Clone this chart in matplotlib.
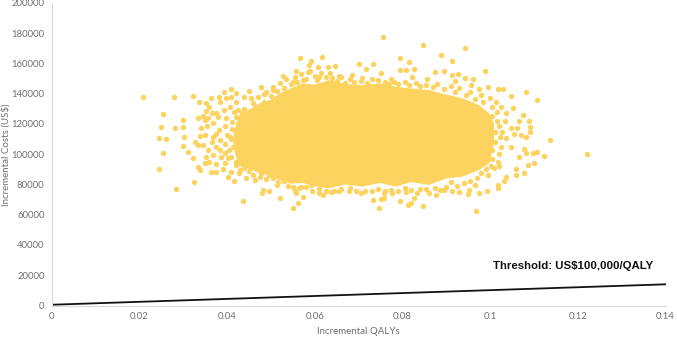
#!/usr/bin/env python3

from matplotlib import pyplot as plt

# simulated points (outer part of the cloud)
qalys = [.0208, .0279, .0323, .0337, .0254, .0299, .0334, .0249, .0282, .0245, .0262, .0299, .0303, .0299,
         .0255, .0246, .0311, .0322, .0334, .0339, .0325, .0285, .0402, .0415, .0436, .048, .0497, .052,
         .0551, .0561, .0364, .0383, .0394, .0409, .0421, .0451, .0478, .0485, .0504, .0527, .055, .0558,
         .0567, .0592, .0616, .0608, .063, .0584, .0588, .0573, .0611,
         .036, .0349, .0356, .0368, .0379, .0394, .0406, .0421, .044, .0455, .0466, .0398, .0421, .044,
         .0383, .0368, .0349, .0341, .0356, .0375, .0387, .0368, .0402, .0413, .0406, .0428, .0345, .0334,
         .0375, .0364, .0349, .0421, .0428, .0444, .0463, .0478, .0497, .0516, .055, .0558, .0573, .0535,
         .0482, .0569, .0592, .0611, .0618,
         .0757, .0846, .0943, .0795, .0816, .0888, .0913, .0989, .0646, .07, .0732, .0718, .0656, .0686,
         .0709, .0752, .0774, .0795, .0808, .0827, .0823, .0857, .0875, .0894, .0914, .0926, .092, .0943,
         .0962, .0956, .0975, .0996, .1017, .103, .1047, .1081, .1106, .1013, .1024, .1052, .1036, .1076,
         .1066, .1034, .1089, .1091, .1091, .1047, .1062, .1055, .107, .1081, .1028, .1036, .1047, .1136,
         .122, .1078, .1081, .1097, .1106, .1123, .1065, .11, .1087, .1059, .1078, .106, .1036, .1032,
         .1017, .1017, .0992, .0975, .0952, .095, .0929, .0913, .0967, .0847, .0747, .0732, .0751, .0758,
         .0795, .0812, .0819, .0827, .0834, .0808, .0777, .0758, .0705, .0679, .0656, .0637, .0861, .0876,
         .0895, .1021, .1009]
costs = [138000, 137600, 138500, 134700, 126600, 122600, 123700, 118200, 117100, 111000, 110100, 118200, 111600,
         105400, 101000, 90200, 101700, 97300, 91800, 89600, 81900, 77000, 85200, 82300, 68900, 74200, 75700,
         70900, 64200, 67500, 137400, 138000, 141300, 142900, 140200, 142000, 144200, 139800, 142400, 151700,
         148000, 155200, 163800, 161800, 164500, 157400, 157400, 154600, 159000, 149100, 151300,
         131400, 122600, 123700, 120400, 124800, 129200, 131400, 134700, 138000, 136900, 131400, 123700, 124800,
         123700, 116000, 111600, 112700, 117100, 102800, 105000, 98400, 99500, 97300, 105000, 111600, 116000,
         106100, 106100, 88500, 88500, 94000, 92900, 87400, 84100, 83000, 87400, 86300, 81900, 78600, 74200,
         72000, 85200, 76300, 78600, 79700, 74200, 73000,
         177300, 172200, 170400, 163800, 161000, 165600, 161400, 154800, 158500, 159600, 159400, 156100, 151900,
         152400, 150200, 153500, 149700, 155700, 155700, 156100, 151300, 149700, 154600, 155200, 152400, 153000,
         148600, 150600, 149700, 145700, 142900, 144200, 142900, 143300, 138500, 141300, 135600, 134700, 131000,
         130300, 127000, 125900, 122200, 122000, 122200, 118200, 114900, 117600, 117100, 113100, 112700, 111600,
         114900, 110500, 105000, 109400, 99900, 103200, 101000, 101000, 101300, 98800, 98000, 94000, 92900, 90200,
         87400, 86300, 85200, 82500, 79700, 77500, 75900, 74600, 76400, 73700, 74800, 75900, 62300, 65800, 64200,
         69700, 70400, 70900, 69300, 66400, 67500, 70900, 74200, 75300, 74200, 74200, 74600, 75900, 75900, 74800,
         74200, 73000, 76400, 92200, 90700]

# points along the edge of the dense part
edge_qalys = [.044, .0455, .046, .047, .0485, .049, .05, .0505, .0515, .052, .053, .0535, .0545, .0555, .056, .057,
              .058, .059, .06, .0605, .0615, .0625, .0635, .064, .065, .066, .067, .068, .069, .0705, .072, .073,
              .0745, .076, .077, .078, .079, .0805, .0815, .083, .084, .0855, .087, .088, .0895, .091, .092, .093,
              .0945, .0955, .0965, .098, .0985, .1, .1005, .1015, .1005, .1015, .102, .1012, .1022, .1012, .1025,
              .1005, .102, .1005, .1018, .1003, .099, .0995, .098, .097, .0955, .0965, .094, .0925, .091, .09,
              .0885, .0875, .0855, .084, .082, .0805, .079, .0775, .076, .0745, .073, .0715, .0695, .068, .066,
              .0645, .0625, .061, .0595, .058, .0565, .0555, .054, .053, .0515, .0505, .049, .0475, .046, .045,
              .044, .043, .042, .041, .0395, .0405, .0395, .041, .0385, .04, .0412, .0395, .0412, .0425, .0435,
              .0425, .0415, .0385, .0375, .0365, .0355, .0352, .036, .0375, .039, .041, .0395, .0375, .0365,
              .0352, .0385, .0398, .041, .0352, .0345, .0338, .0328]
edge_costs = [130000, 128000, 134000, 138000, 134500, 141000, 138500, 144500, 142000, 147000, 144000, 149500, 146500,
              151000, 148000, 153000, 150000, 155000, 151500, 149000, 153500, 151000, 154000, 150500, 148500, 151000,
              147000, 150000, 148000, 148500, 147000, 150000, 149000, 147500, 146500, 148000, 146500, 147500, 145500,
              147000, 145000, 146000, 144500, 146500, 143000, 145000, 141000, 143500, 139000, 141000, 136500, 139500,
              134500, 137000, 131000, 128000, 125000, 122000, 118500, 115000, 111500, 108000, 105000, 103000, 100000,
              97000, 95000, 92500, 90000, 86500, 87500, 84000, 82000, 79500, 81000, 79000, 81500, 78500, 76500, 78000,
              76800, 77000, 76500, 77500, 75500, 76500, 75500, 77000, 76000, 75500, 76000, 77500, 77000, 75500, 75800,
              77000, 76000, 78500, 77500, 76000, 79000, 82000, 79500, 84000, 83500, 85000, 86500, 89000, 91000, 89500,
              95000, 98000, 101000, 103000, 107000, 110000, 109500, 113000, 117000, 119000, 121500, 120000, 127000,
              129000, 128000, 103000, 113500, 108000, 119000, 98000, 95000, 93500, 90500, 88500, 94500, 127500, 127000,
              128500, 134500, 137000, 138000, 134000, 125000, 112000, 108000]

# where the points overlap completely, only the outline of the cloud can be read
core_x = [.0415, .0428, .0450, .0474, .0500, .0520, .0545, .0573, .0600, .0633, .0670, .0709, .0750, .0785,
          .0820, .0861, .0900, .0937, .0975, .0998, .1009]
core_low = [104000, 92000, 90500, 87400, 85500, 83000, 80500, 81000, 78800, 77500, 80000, 78600, 81000, 78600,
            81500, 79700, 84000, 85200, 89600, 94000, 107000]
core_high = [114000, 125900, 129500, 133600, 136000, 140200, 143500, 146900, 146000, 149000, 146500, 145700,
             147000, 144600, 143500, 142400, 139500, 137000, 132500, 127000, 120400]

threshold_x = [0, .14]
threshold_y = [500, 14000]

x_ticks = [0, .02, .04, .06, .08, .1, .12, .14]
x_labels = ['0', '0.02', '0.04', '0.06', '0.08', '0.1', '0.12', '0.14']
y_ticks = [0, 20000, 40000, 60000, 80000, 100000, 120000, 140000, 160000, 180000, 200000]

dot_color = '#fdd35f'
text_color = '#6e6e6e'

plt.rcParams['font.family'] = ['Lato', 'DejaVu Sans']

fig = plt.figure(figsize=(6.77, 3.38), dpi=100)
ax = fig.add_axes([51.5 / 677, 32.5 / 338, 614 / 677, 302.5 / 338])

ax.fill_between(core_x, core_low, core_high, facecolor=dot_color, linewidth=0)
ax.scatter(qalys, costs, s=15, color=dot_color, linewidths=0)
ax.scatter(edge_qalys, edge_costs, s=15, color=dot_color, linewidths=0)
ax.plot(threshold_x, threshold_y, color='#111111', linewidth=1.3)

ax.set_xlim(0, .14)
ax.set_ylim(0, 200000)
ax.set_xticks(x_ticks)
ax.set_xticklabels(x_labels)
ax.set_yticks(y_ticks)
ax.tick_params(axis='both', length=0, labelsize=6.8, labelcolor=text_color, pad=5)

ax.set_xlabel('Incremental QALYs', fontsize=7, color=text_color, labelpad=4)
ax.set_ylabel('Incremental Costs (US$)', fontsize=7, color=text_color)
ax.yaxis.set_label_coords(-41 / 614, .5)

ax.spines['top'].set_visible(False)
ax.spines['right'].set_visible(False)
ax.spines['left'].set_color('#d9d9d9')
ax.spines['bottom'].set_color('#d9d9d9')

ax.text(.1006, 26000, 'Threshold: US$100,000/QALY', family='Liberation Sans', fontweight='bold',
        fontsize=8.2, color='#111111', va='center')

fig.savefig('out.png', dpi=100)
